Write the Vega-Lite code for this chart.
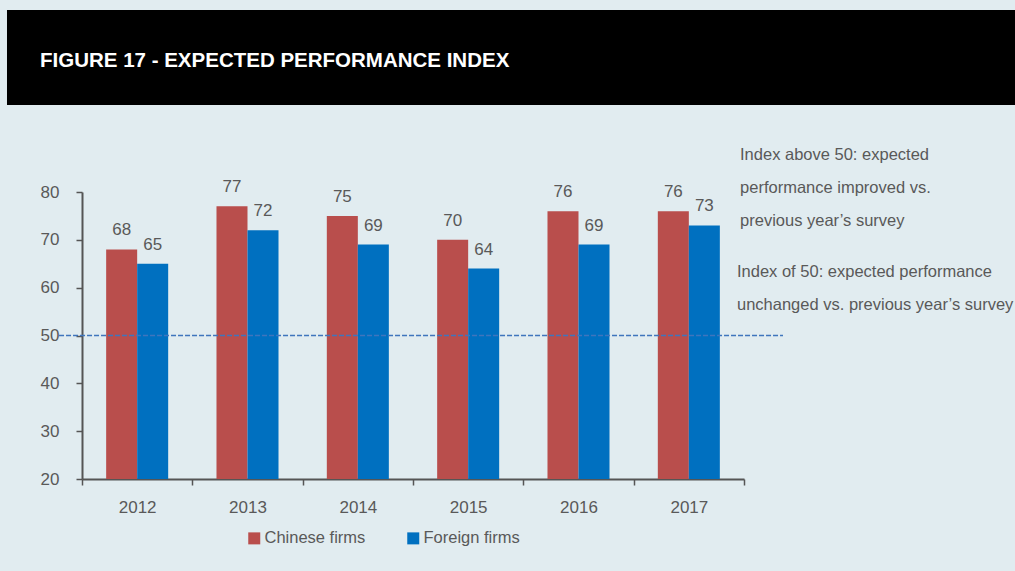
{
  "$schema": "https://vega.github.io/schema/vega-lite/v6.json",
  "autosize": {"type": "none"},
  "padding": {"top": 192, "left": 82, "right": 271, "bottom": 92},
  "width": 662,
  "height": 287,
  "background": "#e1ecf0",
  "config": {"view": {"stroke": null}, "font": "Liberation Sans", "text": {"font": "Liberation Sans"}},
  "data": {
    "values": [
      {"year": "2012", "firm": "Chinese firms", "value": 68},
      {"year": "2012", "firm": "Foreign firms", "value": 65},
      {"year": "2013", "firm": "Chinese firms", "value": 77},
      {"year": "2013", "firm": "Foreign firms", "value": 72},
      {"year": "2014", "firm": "Chinese firms", "value": 75},
      {"year": "2014", "firm": "Foreign firms", "value": 69},
      {"year": "2015", "firm": "Chinese firms", "value": 70},
      {"year": "2015", "firm": "Foreign firms", "value": 64},
      {"year": "2016", "firm": "Chinese firms", "value": 76},
      {"year": "2016", "firm": "Foreign firms", "value": 69},
      {"year": "2017", "firm": "Chinese firms", "value": 76},
      {"year": "2017", "firm": "Foreign firms", "value": 73}
    ]
  },
  "resolve": {"scale": {"x": "independent"}},
  "layer": [
    {
      "data": {"values": [{}]},
      "mark": {"type": "rect", "color": "#000000", "clip": false},
      "encoding": {
        "x": {"datum": -0.1133, "type": "quantitative", "scale": {"domain": [0, 1]}, "axis": null},
        "x2": {"datum": 1.4094},
        "y": {"datum": 118.05, "type": "quantitative"},
        "y2": {"datum": 98.19}
      }
    },
    {
      "data": {"values": [{"title": "FIGURE 17 - EXPECTED PERFORMANCE INDEX"}]},
      "mark": {"type": "text", "align": "left", "baseline": "alphabetic", "fontSize": 20.5, "fontWeight": "bold", "color": "#ffffff", "font": "Liberation Sans"},
      "encoding": {
        "text": {"field": "title", "type": "nominal"},
        "x": {"datum": -0.0634, "type": "quantitative", "scale": {"domain": [0, 1]}, "axis": null},
        "y": {"datum": 106.2, "type": "quantitative"}
      }
    },
    {
      "encoding": {
        "x": {
          "field": "year",
          "type": "nominal",
          "scale": {"paddingInner": 0, "paddingOuter": 0},
          "axis": {
            "title": null,
            "labelAngle": 0,
            "tickBand": "extent",
            "domainColor": "#555555",
            "domainWidth": 2,
            "tickColor": "#555555",
            "tickWidth": 1.5,
            "tickSize": 6,
            "labelFontSize": 17,
            "labelPadding": 14,
            "labelColor": "#595959",
            "labelFont": "Liberation Sans"
          }
        },
        "xOffset": {
          "field": "firm",
          "type": "nominal",
          "sort": ["Chinese firms", "Foreign firms"],
          "scale": {"paddingInner": 0, "paddingOuter": 0.779}
        },
        "y": {
          "field": "value",
          "type": "quantitative",
          "scale": {"domain": [20, 80], "zero": false, "nice": false},
          "axis": {
            "title": null,
            "values": [20, 30, 40, 50, 60, 70, 80],
            "grid": false,
            "domainColor": "#555555",
            "domainWidth": 2,
            "tickColor": "#555555",
            "tickWidth": 1.5,
            "tickSize": 6,
            "labelFontSize": 17,
            "labelPadding": 17,
            "labelColor": "#595959",
            "labelFont": "Liberation Sans"
          }
        }
      },
      "layer": [
        {
          "mark": {"type": "bar"},
          "encoding": {
            "y2": {"datum": 20},
            "color": {
              "field": "firm",
              "type": "nominal",
              "scale": {"domain": ["Chinese firms", "Foreign firms"], "range": ["#b94e4c", "#0070c0"]},
              "legend": {
                "title": null,
                "orient": "none",
                "legendX": 164,
                "legendY": 338,
                "direction": "horizontal",
                "symbolType": "square",
                "symbolSize": 144,
                "symbolStrokeWidth": 0,
                "labelFontSize": 16.5,
                "labelColor": "#595959",
                "labelFont": "Liberation Sans",
                "columnPadding": 39,
                "labelOffset": 2,
                "padding": 0
              }
            }
          }
        },
        {
          "mark": {"type": "text", "baseline": "alphabetic", "dy": -14, "fontSize": 17, "color": "#595959"},
          "encoding": {"text": {"field": "value", "type": "quantitative"}}
        }
      ]
    },
    {
      "data": {"values": [{}]},
      "mark": {"type": "rule", "strokeDash": [5, 2], "color": "#3f75bd", "strokeWidth": 1.5, "clip": false},
      "encoding": {
        "x": {"datum": -0.0347, "type": "quantitative", "scale": {"domain": [0, 1]}, "axis": null},
        "x2": {"datum": 1.0589},
        "y": {"datum": 50, "type": "quantitative"}
      }
    },
    {
      "data": {"values": [{}]},
      "mark": {
        "type": "text",
        "align": "left",
        "baseline": "alphabetic",
        "fontSize": 16.5,
        "color": "#595959",
        "lineHeight": 33,
        "text": ["Index above 50: expected", "performance improved vs.", "previous year’s survey"]
      },
      "encoding": {
        "x": {"datum": 0.994, "type": "quantitative", "scale": {"domain": [0, 1]}, "axis": null},
        "y": {"datum": 86.69, "type": "quantitative"}
      }
    },
    {
      "data": {"values": [{}]},
      "mark": {
        "type": "text",
        "align": "left",
        "baseline": "alphabetic",
        "fontSize": 16.5,
        "color": "#595959",
        "lineHeight": 33,
        "text": ["Index of 50: expected performance", "unchanged vs. previous year’s survey"]
      },
      "encoding": {
        "x": {"datum": 0.9894, "type": "quantitative", "scale": {"domain": [0, 1]}, "axis": null},
        "y": {"datum": 62.23, "type": "quantitative"}
      }
    }
  ]
}
